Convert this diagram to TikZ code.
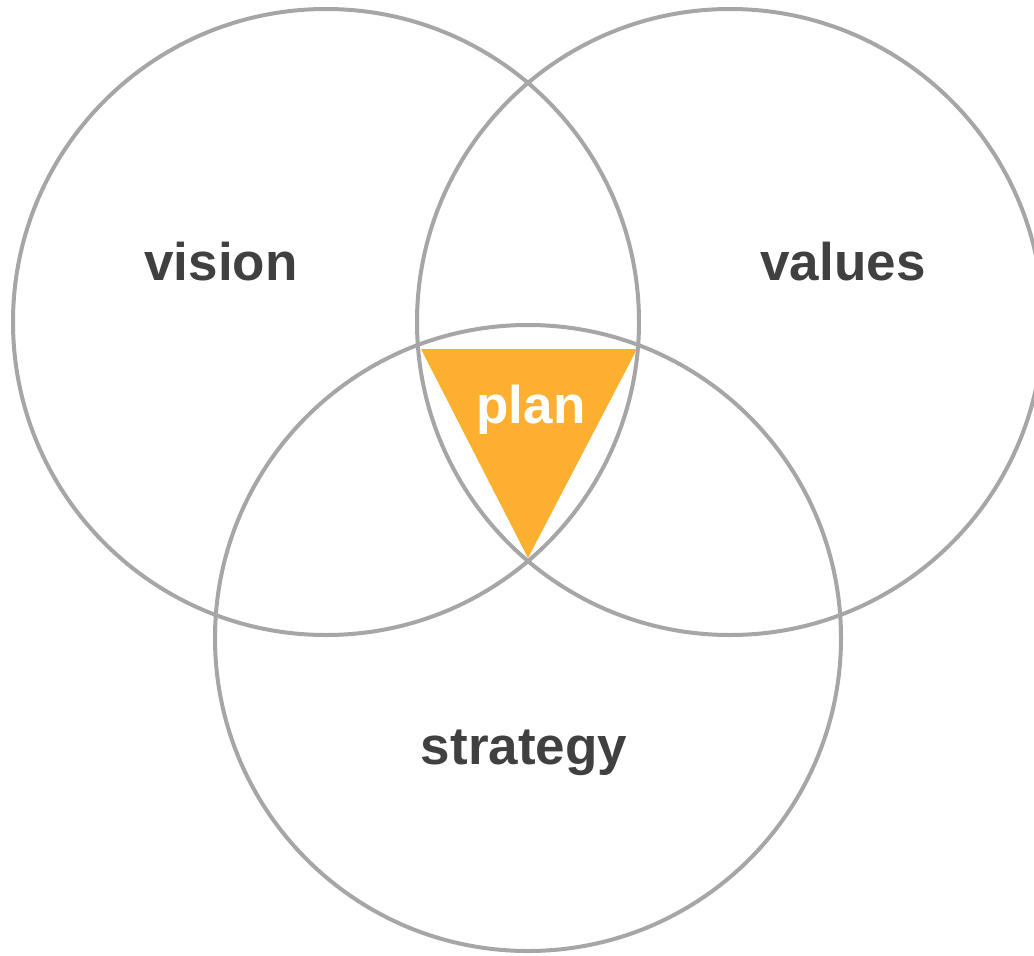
\documentclass[tikz,border=0pt]{standalone}
\usepackage{fontspec}
\setmainfont{Liberation Sans}
\usetikzlibrary{positioning}

\definecolor{ringgray}{HTML}{A6A6A6}
\definecolor{plangold}{HTML}{FDB030}
\definecolor{wordgray}{HTML}{404040}

\begin{document}
\begin{tikzpicture}[x=1pt,y=-1pt]

  \tikzset{ring/.style={circle, draw=ringgray, line width=4pt,
  		minimum size=626pt, inner sep=0pt}, }
  \tikzset{word/.style={anchor=base, text=wordgray,
  		font=\bfseries\fontsize{53}{60}\selectfont}, }
  \tikzset{wedge/.style={fill=plangold}, }

\useasboundingbox (0,0) rectangle (1034,956);

\node[ring] (vision)   at (326,322) {};
\node[ring] (values)   at (730,322) {};
\node[ring] (strategy) at (528,638) {};

% corners of the middle piece
\coordinate (pa) at (421,349);
\coordinate (pb) at (637,349);
\coordinate (pc) at (528,558);
\fill[wedge] (pa) -- (pb) -- (pc) -- cycle;

\node[word] (tvision)   at (221,280) {vision};
\node[word] (tvalues)   at (843,280) {values};
\node[word] (tstrategy) at (524,764) {strategy};
\node[word, text=white] (tplan) at (531,423) {plan};
%%
\end{tikzpicture}
\end{document}
